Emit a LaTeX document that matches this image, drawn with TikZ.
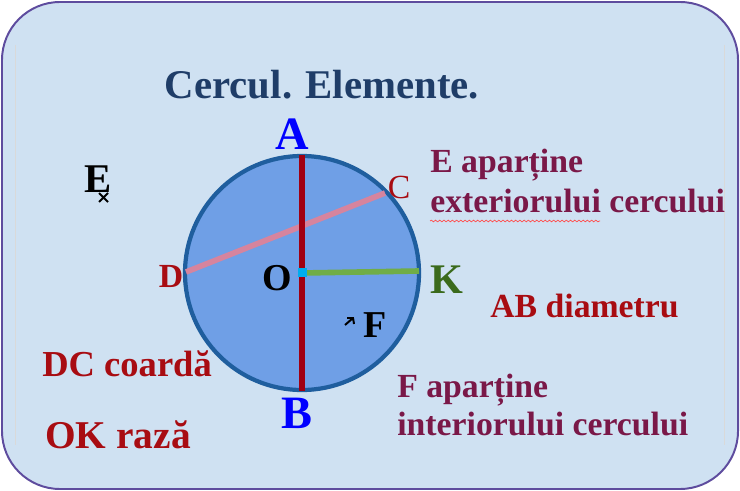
\documentclass[tikz,border=0pt]{standalone}
\usepackage{fontspec}
\setmainfont{Liberation Serif}
\usepackage{xcolor}
\usepackage{tikz}
\usetikzlibrary{positioning, calc, decorations.pathmorphing}

\definecolor{pagebg}{HTML}{CFE1F2}
\definecolor{framecol}{HTML}{5E4C9E}
\definecolor{discfill}{HTML}{6F9FE6}
\definecolor{discline}{HTML}{1F5E9E}
\definecolor{diamred}{HTML}{A00012}
\definecolor{chordpink}{HTML}{D6849E}
\definecolor{radgreen}{HTML}{70AD47}
\definecolor{kgreen}{HTML}{3A6A1C}
\definecolor{titleblue}{HTML}{1F3D68}
\definecolor{maroon}{HTML}{7A1848}
\definecolor{darkred}{HTML}{A80C12}

\tikzset{
  txt/.style={inner sep=0pt, anchor=base west, font=\bfseries\fontsize{24}{28}\selectfont},
  letter/.style={inner sep=0pt, anchor=base, font=\bfseries\fontsize{#1}{#1}\selectfont},
  seg/.style={line width=4pt, line cap=butt}
}

\begin{document}
\begin{tikzpicture}[x=0.025cm, y=-0.025cm]
  \useasboundingbox (0,0) rectangle (740,491);

  % frame
  \draw[framecol, line width=1.4pt, fill=pagebg, rounded corners=1.45cm] (2,2) rectangle (738,489);
  \draw[black!15, line width=0.4pt] (15,45) -- (15,445);
  \draw[black!15, line width=0.4pt] (724,45) -- (724,445);

  % title
  \node[letter=29, titleblue] (title) at (322,99) {Cercul. Elemente.};

  % circle and its points
  \coordinate (O) at (302,273);
  \coordinate (A) at (302,155);
  \coordinate (B) at (302,391);
  \coordinate (D) at (186,272);
  \coordinate (C) at (385,193);
  \coordinate (K) at (419,271);
  \draw[discline, line width=3pt, fill=discfill] (O) circle (117);

  \draw[seg, chordpink] (D) -- (C);
  \draw[seg, diamred] (A) -- (B);
  \draw[seg, radgreen] (O) -- (K);
  \fill[cyan] ($(O)+(-4,-5)$) rectangle ($(O)+(5,4)$);

  % point labels
  \node[letter=33, blue] (tA) at (292,150) {A};
  \node[letter=33, blue] (tB) at (297,428) {B};
  \node[letter=24, darkred] (tD) at (171,287) {D};
  \node[letter=24, darkred, font=\mdseries\fontsize{24}{24}\selectfont] (tC) at (399,198) {C};
  \node[letter=27, black] (tO) at (277,290) {O};
  \node[letter=30, kgreen] (tK) at (447,293) {K};

  % points E and F
  \node[letter=29, black] (tE) at (98,192) {E};
  \draw[black, line width=1.5pt] (99,193) -- (108,202) (108,193) -- (99,202);
  \node[letter=27, black] (tF) at (375,337) {F};
  \draw[black, line width=1.4pt] (345,325) -- (353,318) (347,318) -- (353,318) -- (354,324);

  % texts
  \node[txt, maroon] (eIn) at (430,173) {E aparține};
  \node[txt, maroon] (eOut) at (430,212) {exteriorului cercului};
  \draw[red!70, line width=0.5pt, decorate, decoration={snake, amplitude=0.6pt, segment length=3pt}] (430,221) -- (600,221);
  \node[txt, darkred] (diam) at (490,317) {AB diametru};
  \node[txt, maroon] (fIn) at (397,397) {F aparține};
  \node[txt, maroon] (fOut) at (397,435) {interiorului cercului};
  \node[txt, darkred, font=\bfseries\fontsize{26}{28}\selectfont] (coarda) at (42,376) {DC coardă};
  \node[txt, darkred, font=\bfseries\fontsize{28}{30}\selectfont] (raza) at (45,448) {OK rază};
\end{tikzpicture}
\end{document}
